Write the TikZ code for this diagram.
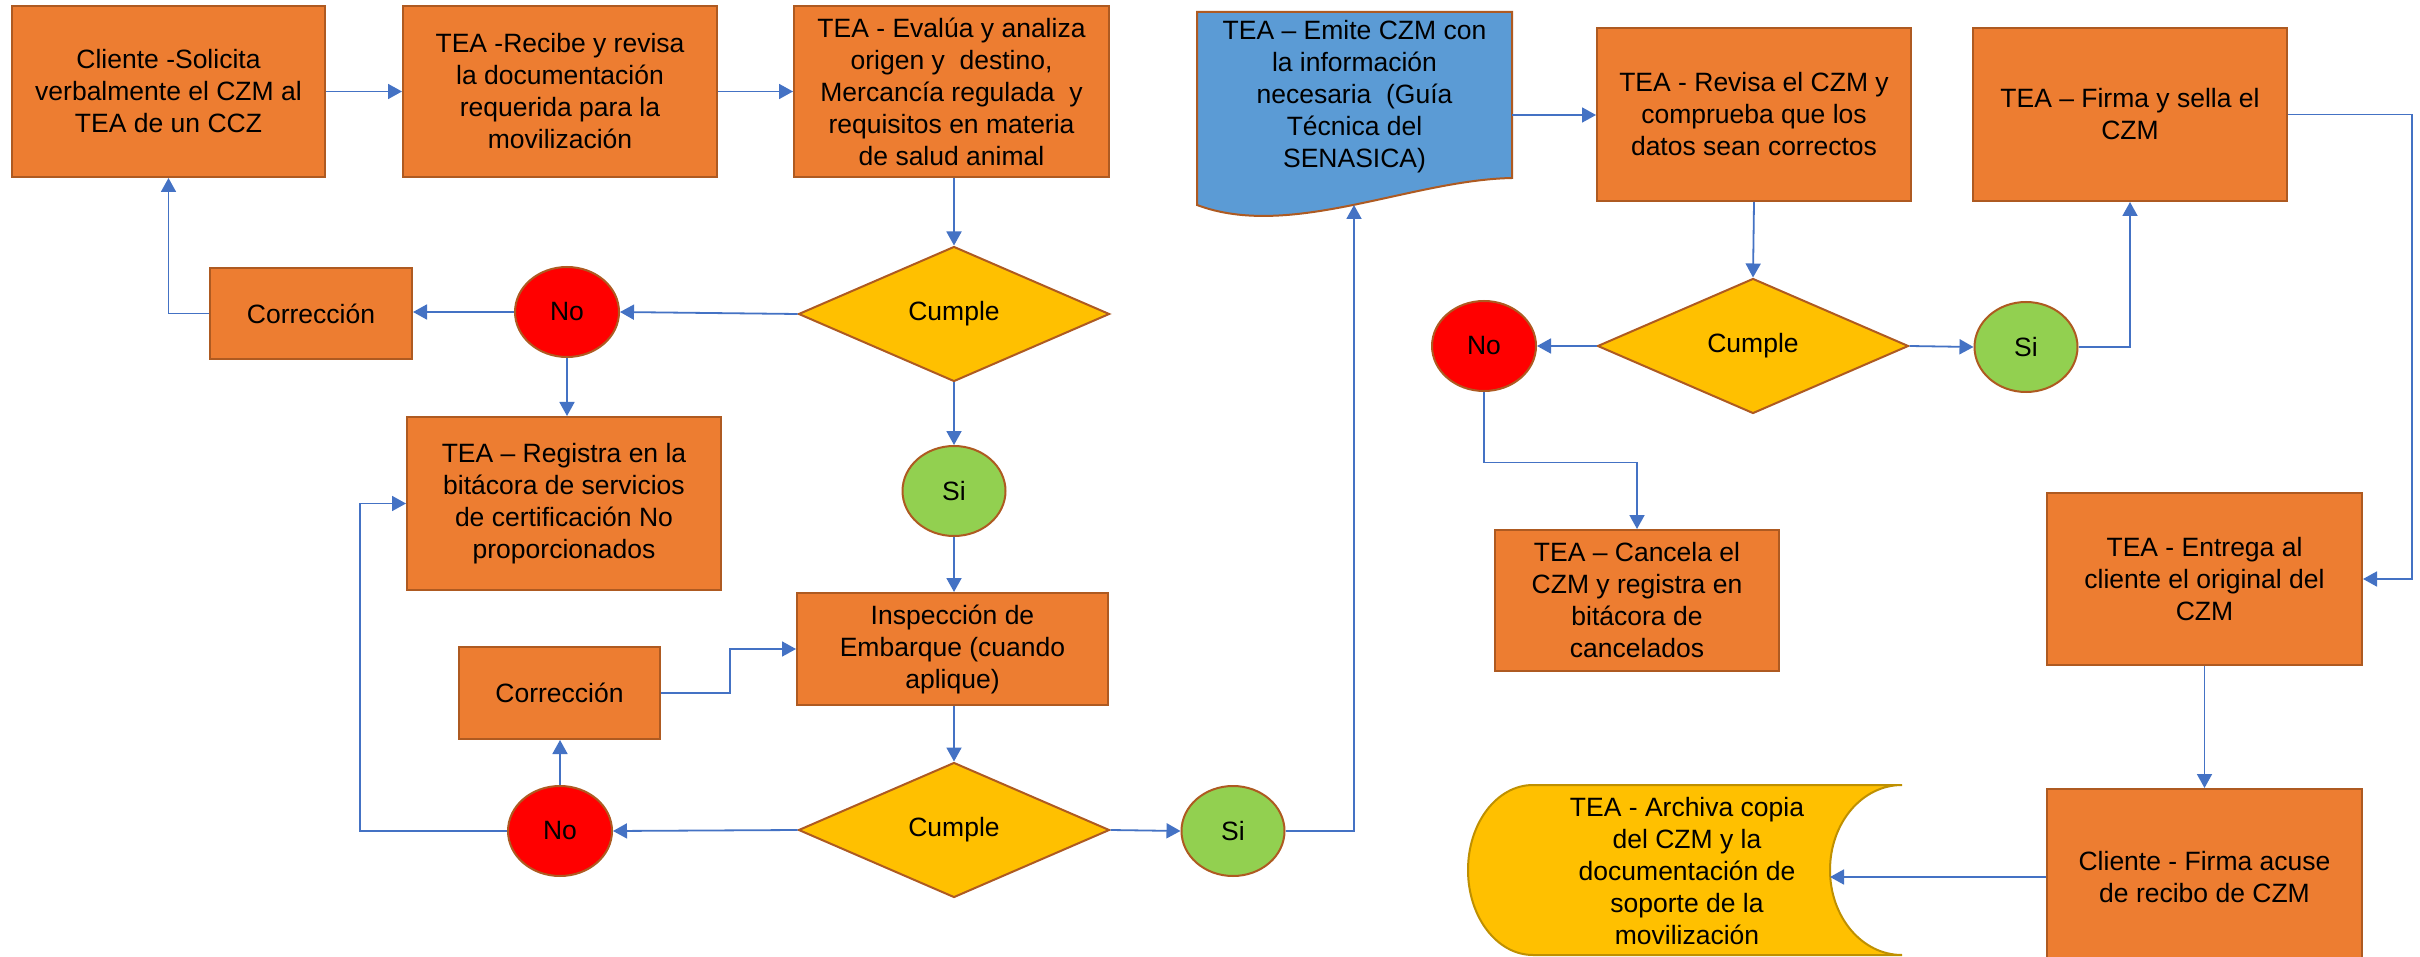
\documentclass[tikz,border=0pt]{standalone}
\usepackage{fontspec}
\setmainfont{Liberation Sans}
\usetikzlibrary{shapes.geometric,arrows.meta}
\definecolor{orfill}{HTML}{ED7D31}
\definecolor{orline}{HTML}{AE5A21}
\definecolor{docblue}{HTML}{5B9BD5}
\definecolor{dyel}{HTML}{FFC000}
\definecolor{goldline}{HTML}{BF9000}
\definecolor{nored}{HTML}{FF0000}
\definecolor{sigreen}{HTML}{92D050}
\definecolor{arrblue}{HTML}{4472C4}
\begin{document}
\begin{tikzpicture}[x=1pt,y=-1pt,
  every node/.style={font=\fontsize{26.5}{32}\selectfont, align=center, text=black},
  proc/.style={draw=orline, fill=orfill, line width=2pt, rectangle, inner sep=0pt},
  dec/.style={draw=orline, fill=dyel, line width=2pt, diamond, inner sep=0pt, minimum width=311pt, minimum height=135pt},
  nonode/.style={draw=orline, fill=nored, line width=2pt, ellipse, inner sep=0pt, minimum width=104pt, minimum height=90pt},
  sinode/.style={draw=orline, fill=sigreen, line width=2pt, ellipse, inner sep=0pt, minimum width=103pt, minimum height=90pt},
  conn/.style={draw=arrblue, line width=1.8pt, -{Triangle[length=14pt,width=15pt]}},
  ]
\fill[white] (0,0) rectangle (2420,957);
\useasboundingbox (0,0) rectangle (2420,957);

% top row, left part
\node[proc, minimum width=313pt, minimum height=171pt] (box1) at (168.5,91.5) {Cliente -Solicita\\verbalmente el CZM al\\TEA de un CCZ};
\node[proc, minimum width=314pt, minimum height=171pt] (box2) at (560,91.5) {TEA -Recibe y revisa\\la documentación\\requerida para la\\movilización};
\node[proc, minimum width=315pt, minimum height=171pt] (box3) at (951.5,91.5) {TEA - Evalúa y analiza\\origen y \ destino,\\Mercancía regulada \ y\\requisitos en materia\\de salud animal};

\node[dec] (d1) at (954,314) {Cumple};
\node[nonode] (no1) at (567,312) {No};
\node[proc, minimum width=202pt, minimum height=91pt] (corr1) at (311,313.5) {Corrección};
\node[proc, minimum width=314pt, minimum height=173pt] (reg) at (564,503.5) {TEA – Registra en la\\bitácora de servicios\\de certificación No\\proporcionados};
\node[sinode] (si1) at (954,491) {Si};
\node[proc, minimum width=311pt, minimum height=112pt] (insp) at (952.5,649) {Inspección de\\Embarque (cuando\\aplique)};
\node[proc, minimum width=201pt, minimum height=92pt] (corr2) at (559.5,693) {Corrección};
\node[nonode] (no2) at (560,831) {No};
\node[dec] (d2) at (954,830) {Cumple};
\node[sinode] (si2) at (1233,831) {Si};

% document shape
\draw[draw=orline, fill=docblue, line width=2pt] (1197,12) -- (1512,12) -- (1512,178)
  .. controls (1410,180) and (1290,240) .. (1197,205) -- cycle;
\node (emite) at (1354.5,96.5) {TEA – Emite CZM con\\la información\\necesaria \ (Guía\\Técnica del\\SENASICA)};
\coordinate (embot) at (1354,205);
\coordinate (emiteE) at (1512,115);

% right part
\node[proc, minimum width=314pt, minimum height=173pt] (revisa) at (1754,114.5) {TEA - Revisa el CZM y\\comprueba que los\\datos sean correctos};
\node[proc, minimum width=314pt, minimum height=173pt] (firma) at (2130,114.5) {TEA – Firma y sella el\\CZM};
\node[dec] (d3) at (1753,346) {Cumple};
\node[nonode] (no3) at (1484,346) {No};
\node[sinode] (si3) at (2026,347) {Si};
\node[proc, minimum width=284pt, minimum height=141pt] (cancela) at (1637,600.5) {TEA – Cancela el\\CZM y registra en\\bitácora de\\cancelados};
\node[proc, minimum width=315pt, minimum height=172pt] (entrega) at (2204.5,579) {TEA - Entrega al\\cliente el original del\\CZM};
\node[proc, minimum width=315pt, minimum height=176pt] (acuse) at (2204.5,877) {Cliente - Firma acuse\\de recibo de CZM};

% stored data shape
\draw[draw=goldline, fill=dyel, line width=2pt] (1533,785) -- (1902,785)
  .. controls (1862,785) and (1830,823) .. (1830,870)
  .. controls (1830,917) and (1862,955) .. (1902,955)
  -- (1533,955)
  .. controls (1497,955) and (1468,917) .. (1468,870)
  .. controls (1468,823) and (1497,785) .. (1533,785) -- cycle;
\node (archiva) at (1687,871) {TEA - Archiva copia\\del CZM y la\\documentación de\\soporte de la\\movilización};
\coordinate (archE) at (1830,874);

% connectors
\draw[conn] (box1.east) -- (box2.west);
\draw[conn] (box2.east) -- (box3.west);
\draw[conn] (box3.south -| d1.north) -- (d1.north);
\draw[conn] (d1.west) -- (no1.east);
\draw[conn] (no1.west) -- (no1.west -| corr1.east);
\draw[conn] (corr1.west) -| (box1.south);
\draw[conn] (no1.south) -- (no1.south |- reg.north);
\draw[conn] (d1.south) -- (si1.north);
\draw[conn] (si1.south) -- (si1.south |- insp.north);
\draw[conn] (corr2.east) -- ++(69,0) |- (insp.west);
\draw[conn] (insp.south -| d2.north) -- (d2.north);
\draw[conn] (d2.west) -- (no2.east);
\draw[conn] (no2.north) -- (no2.north |- corr2.south);
\draw[conn] (no2.west) -- ++(-147,0) |- (reg.west);
\draw[conn] (d2.east) -- (si2.west);
\draw[conn] (si2.east) -| (embot);
\draw[conn] (emiteE) -- (emiteE -| revisa.west);
\draw[conn] (revisa.south) -- (d3.north);
\draw[conn] (d3.west) -- (no3.east);
\draw[conn] (d3.east) -- (si3.west);
\draw[conn] (si3.east) -| (firma.south);
\draw[conn] (no3.south) -- ++(0,70.5) -| (cancela.north);
\draw[conn] (firma.east) -- ++(124,0) |- (entrega.east);
\draw[conn] (entrega.south) -- (acuse.north);
\draw[conn] (acuse.west) -- (acuse.west -| archE);
\end{tikzpicture}
\end{document}
